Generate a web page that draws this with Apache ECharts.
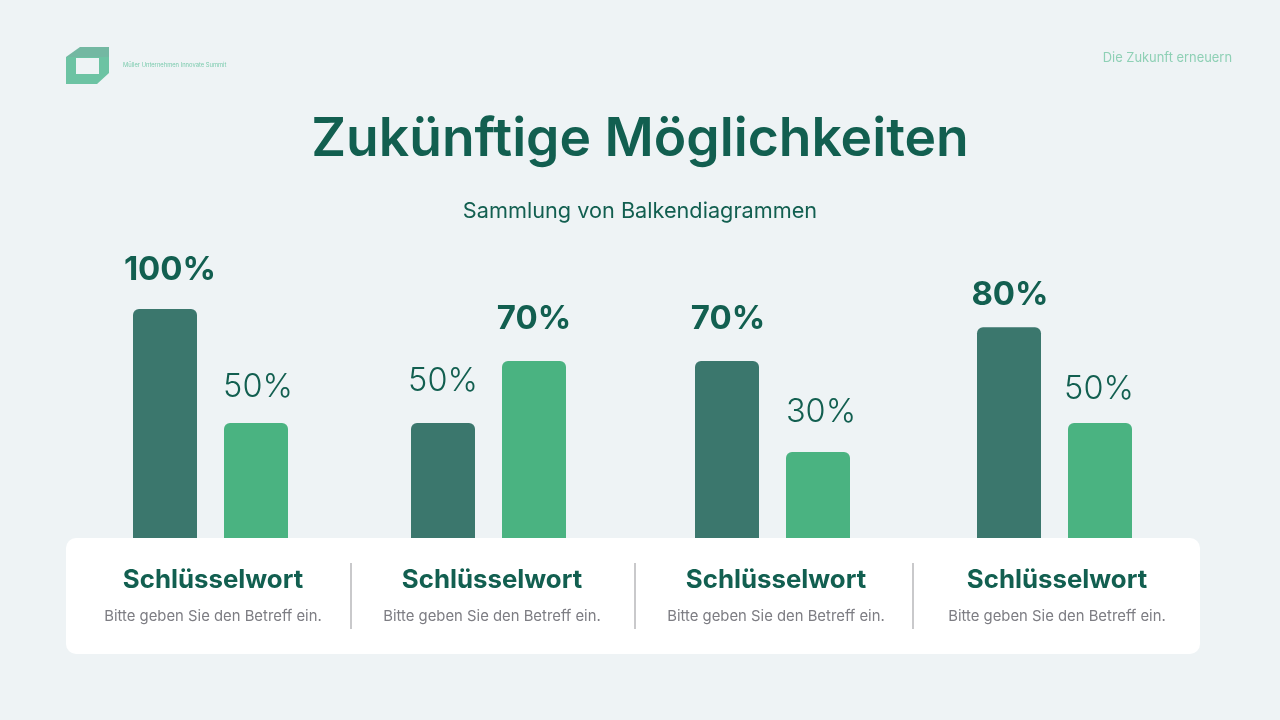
<!DOCTYPE html>
<html>
<head>
<meta charset="utf-8">
<style>
  html, body { margin: 0; padding: 0; background: #eef3f5; }
  #chart { width: 1280px; height: 720px; }
</style>
<script src="https://cdn.jsdelivr.net/npm/echarts@6/dist/echarts.min.js"></script>
</head>
<body>
<div id="chart"></div>
<script>
var chartTitle = 'Zukünftige Möglichkeiten';
var chartSubtitle = 'Sammlung von Balkendiagrammen';
var brandName = 'Müller Unternehmen Innovate Summit';
var slogan = 'Die Zukunft erneuern';
var keywords = ['Schlüsselwort', 'Schlüsselwort', 'Schlüsselwort', 'Schlüsselwort'];
var descriptions = ['Bitte geben Sie den Betreff ein.', 'Bitte geben Sie den Betreff ein.', 'Bitte geben Sie den Betreff ein.', 'Bitte geben Sie den Betreff ein.'];

// printed labels; the bars in the picture are not drawn to these numbers
var darkLabels = ['100%', '50%', '70%', '80%'];
var lightLabels = ['50%', '70%', '30%', '50%'];
// bar heights, tallest bar = 100
var darkHeights = [100, 50.2, 77.3, 92];
var lightHeights = [50.2, 77.3, 37.6, 50.2];
var darkBold = [true, false, true, true];
var lightBold = [false, true, false, false];

var DARK = '#3b776d';
var LIGHT = '#4ab381';
var INK = '#125f50';
var FONT = 'Inter';

var groupLeft = [119.5, 397.5, 681.5, 963.5];
var darkLabelGap = [6, 9, 9, 0];
var lightLabelGap = [3, 9, 7, 1];
var darkLabelShift = [5, 0, 1, 1];
var lightLabelShift = [2, 0, 3, -1];
var textCenter = [213, 492, 776, 1057];
var dividerX = [351, 635, 913];

function barLabel(text, bold, gap, shift) {
    return {
        show: true,
        position: 'top',
        distance: 16 + gap,
        offset: [shift, 0],
        formatter: text,
        fontFamily: FONT,
        fontSize: bold ? 33 : 32.5,
        fontWeight: bold ? 700 : 300,
        color: INK
    };
}

var grids = [], xAxes = [], yAxes = [], series = [];
groupLeft.forEach(function (left, i) {
    grids.push({ left: left, top: 309, width: 182, height: 229 });
    xAxes.push({ gridIndex: i, type: 'category', data: ['a', 'b'], show: false });
    yAxes.push({ gridIndex: i, type: 'value', min: 0, max: 100, show: false });
    series.push({
        type: 'bar',
        xAxisIndex: i,
        yAxisIndex: i,
        barWidth: 64,
        silent: true,
        itemStyle: { borderRadius: [6, 6, 0, 0] },
        data: [
            {
                value: darkHeights[i],
                itemStyle: { color: DARK },
                label: barLabel(darkLabels[i], darkBold[i], darkLabelGap[i], darkLabelShift[i])
            },
            {
                value: lightHeights[i],
                itemStyle: { color: LIGHT },
                label: barLabel(lightLabels[i], lightBold[i], lightLabelGap[i], lightLabelShift[i])
            }
        ]
    });
});

function text(x, y, str, size, weight, color, align) {
    return {
        type: 'text',
        x: x,
        y: y,
        silent: true,
        style: {
            text: str,
            fontFamily: FONT,
            fontSize: size,
            fontWeight: weight,
            fill: color,
            align: align || 'center',
            verticalAlign: 'middle'
        }
    };
}

var graphics = [
    // card under the bars
    { type: 'rect', shape: { x: 66, y: 538, width: 1134, height: 116, r: 10 }, style: { fill: '#ffffff' } },
    // logo
    { type: 'polygon', shape: { points: [[66, 57], [80, 47], [109, 47], [109, 58], [66, 58]] }, style: { fill: '#73b8a2' } },
    {
        type: 'polygon',
        shape: { points: [[66, 57], [109, 57], [109, 73], [97, 84], [66, 84], [66, 58], [76, 58], [76, 74], [99, 74], [99, 58], [66, 58]] },
        style: { fill: '#6cc3a3' }
    },
    text(123, 65.5, brandName, 5.8, 400, '#7ccbae', 'left'),
    text(1232, 58, slogan, 12.9, 400, '#8ed0b5', 'right'),
    text(640, 139.5, chartTitle, 53.4, 600, INK),
    text(640, 211, chartSubtitle, 21.7, 400, INK)
];

dividerX.forEach(function (x) {
    graphics.push({ type: 'rect', shape: { x: x - 1, y: 563, width: 2, height: 66 }, style: { fill: '#c9c9cb' } });
});
textCenter.forEach(function (x, i) {
    graphics.push(text(x, 580, keywords[i], 25.8, 700, INK));
    graphics.push(text(x, 617, descriptions[i], 14.85, 400, '#7d7d83'));
});

var chart = echarts.init(document.getElementById('chart'));
chart.setOption({
    backgroundColor: '#eef3f5',
    animation: false,
    grid: grids,
    xAxis: xAxes,
    yAxis: yAxes,
    series: series,
    graphic: graphics
});
</script>
</body>
</html>
